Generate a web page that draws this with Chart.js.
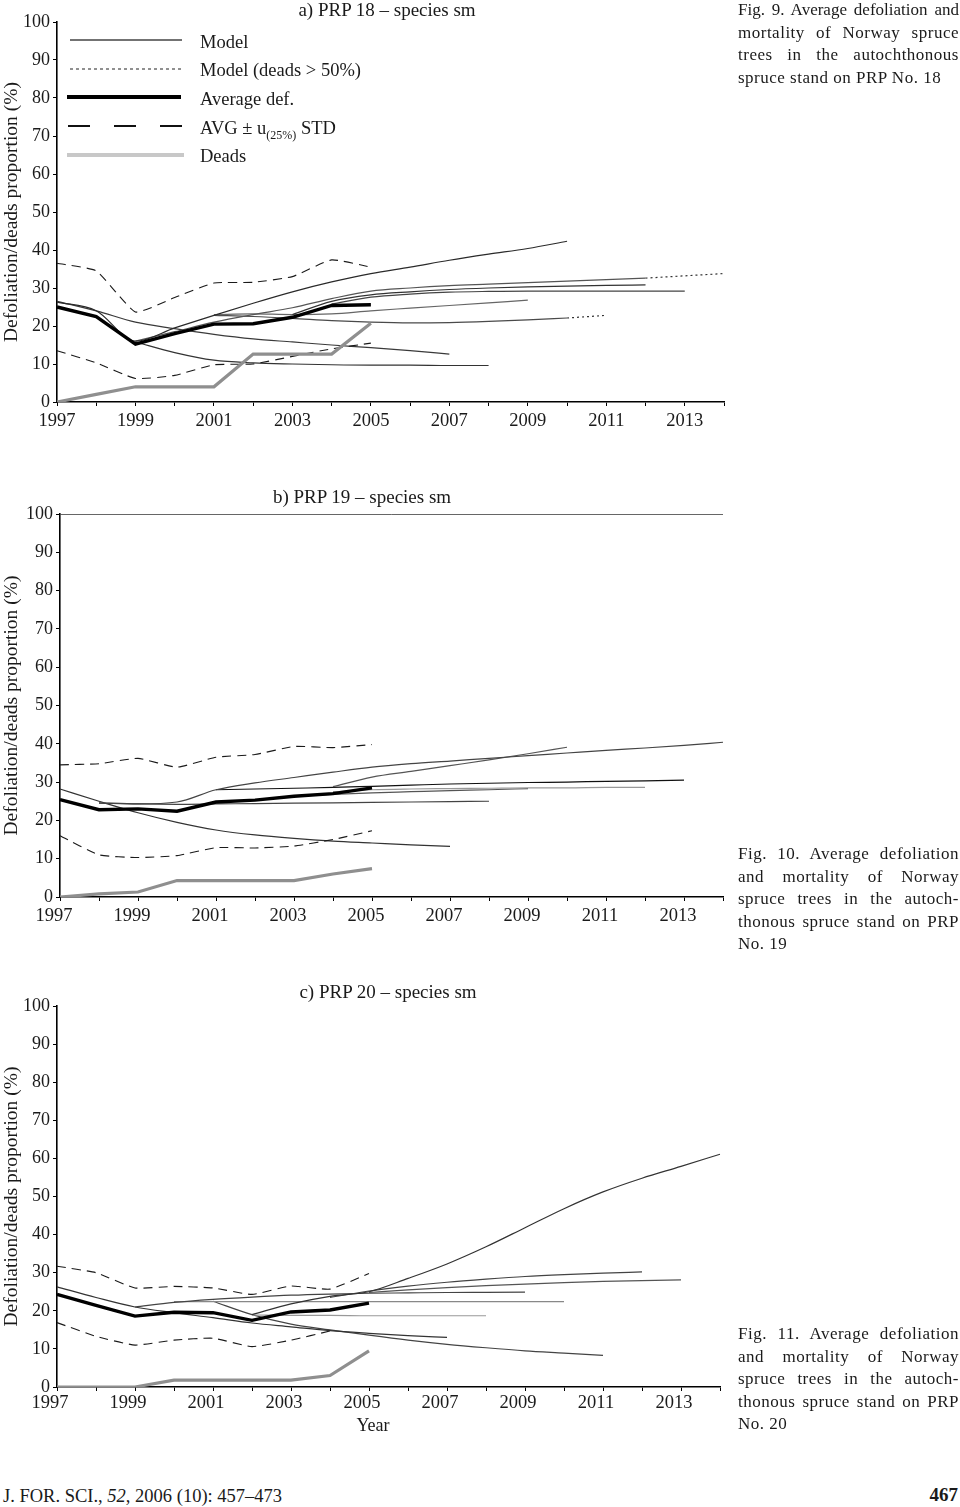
<!DOCTYPE html>
<html><head><meta charset="utf-8">
<script src="https://cdn.jsdelivr.net/npm/chart.js@4/dist/chart.umd.min.js"></script>
<style>
body{margin:0;width:960px;height:1507px;background:#fff;position:relative;overflow:hidden;font-family:'Liberation Serif',serif;color:#1a1a1a}
canvas{position:absolute;left:0}
.t{position:absolute;white-space:nowrap;font-size:19px;line-height:20px;transform:translateX(-50%)}
.lg{position:absolute;left:200px;font-size:18.5px;line-height:20px;white-space:nowrap}
.cap{position:absolute;left:738px;width:221px;font-size:17px;line-height:22.5px}
.cap div{text-align:justify;text-align-last:justify;letter-spacing:0.5px}
.cap div.last{text-align-last:left}
</style></head><body>

<canvas id="ca" width="740" height="440" style="top:0"></canvas>
<canvas id="cb" width="740" height="450" style="top:480px"></canvas>
<canvas id="cc" width="740" height="450" style="top:970px"></canvas>

<div class="t" style="left:387px;top:0">a) PRP 18 – species sm</div>
<div class="t" style="left:362px;top:487px">b) PRP 19 – species sm</div>
<div class="t" style="left:388px;top:982px">c) PRP 20 – species sm</div>
<div class="t" style="left:373px;top:1415px;font-size:18px">Year</div>

<svg style="position:absolute;left:0;top:0" width="200" height="170">
  <line x1="70" y1="40" x2="182" y2="40" stroke="#444" stroke-width="1.3"/>
  <line x1="70" y1="69" x2="182" y2="69" stroke="#222" stroke-width="1.2" stroke-dasharray="3,3"/>
  <line x1="67" y1="97" x2="181" y2="97" stroke="#000" stroke-width="4"/>
  <line x1="68" y1="126" x2="182" y2="126" stroke="#111" stroke-width="2" stroke-dasharray="22,24"/>
  <line x1="67" y1="155" x2="184" y2="155" stroke="#c8c8c8" stroke-width="4"/>
</svg>
<div class="lg" style="top:32px">Model</div>
<div class="lg" style="top:60px">Model (deads &gt; 50%)</div>
<div class="lg" style="top:89px">Average def.</div>
<div class="lg" style="top:118px">AVG ± u<sub style="font-size:12px">(25%)</sub> STD</div>
<div class="lg" style="top:146px">Deads</div>

<div class="cap" style="top:-1px">
<div style="letter-spacing:0">Fig. 9. Average defoliation and</div>
<div>mortality of Norway spruce</div>
<div>trees in the autochthonous</div>
<div class="last">spruce stand on PRP No. 18</div>
</div>
<div class="cap" style="top:843px">
<div>Fig. 10. Average defoliation</div>
<div>and mortality of Norway</div>
<div>spruce trees in the autoch-</div>
<div>thonous spruce stand on PRP</div>
<div class="last">No. 19</div>
</div>
<div class="cap" style="top:1323px">
<div>Fig. 11. Average defoliation</div>
<div>and mortality of Norway</div>
<div>spruce trees in the autoch-</div>
<div>thonous spruce stand on PRP</div>
<div class="last">No. 20</div>
</div>

<div style="position:absolute;left:3px;top:1486px;font-size:18.5px;line-height:20px;white-space:nowrap">J. FOR. SCI., <i>52</i>, 2006 (10): 457–473</div>
<div style="position:absolute;right:2px;top:1485px;font-size:19px;line-height:20px;font-weight:bold">467</div>

<script>
// ---- shared axes ----
const years = ['1997','1998','1999','2000','2001','2002','2003','2004','2005','2006','2007','2008','2009','2010','2011','2012','2013','2014'];
const yTicks = [0,10,20,30,40,50,60,70,80,90,100];
const yTitle = 'Defoliation/deads proportion (%)';

// ---- panel a) PRP 18 ----
const avgA   = [25,22.5,15.2,18,20.5,20.6,22.3,25.4,25.6];
const deadsA = [0,2,4,4,4,12.6,12.6,12.6,20.7];
const upA    = [36.5,34.5,23.7,27.5,31.3,31.5,33,37.4,35.5];
const lowA   = [13.5,10.3,6.2,7,9.8,10,12,14,15.5];
const mA1 = [26.3,24,16,19.5,22.8,26,29,31.6,33.8,35.5,37.3,38.9,40.4,42.3];
const mA2 = [null,null,16,18.5,21,23,24.8,27.2,29.2,30,30.6,31,31.4,31.8,32.2,32.6];
const dA2 = [null,null,null,null,null,null,null,null,null,null,null,null,null,null,null,32.6,33.2,33.8];
const mA3 = [null,null,null,null,null,null,23,26.5,28.2,29,29.6,30,30.3,30.5,30.7,30.8];
const mA4 = [null,null,null,null,null,null,null,25.8,27.6,28.4,28.9,29.1,29.2,29.2,29.2,29.2,29.2];
const mA5 = [null,null,null,null,23,23.2,23,23.2,24,24.7,25.4,26.1,26.8];
const mA6 = [null,null,null,null,22.8,22.5,22,21.4,21,20.8,20.9,21.2,21.6,22.1];
const dA6 = [null,null,null,null,null,null,null,null,null,null,null,null,null,22.1,22.8];
const mA7 = [26.5,24,21,19.3,17.8,16.6,15.8,15,14.3,13.5,12.6];
const mA8 = [null,null,15.8,13,11,10.3,10,9.8,9.7,9.7,9.6,9.6];

// ---- panel b) PRP 19 ----
const avgB   = [25.4,22.8,23,22.4,24.8,25.3,26.3,27,28.5];
const deadsB = [0,0.8,1.3,4.3,4.3,4.3,4.3,6,7.4];
const upB    = [34.5,34.8,36.2,33.9,36.5,37.2,39.3,39,39.8];
const lowB   = [16,11,10.3,10.8,12.9,12.8,13.3,15,17.3];
const mB1 = [null,24.5,24.3,24.8,28,29.8,31.2,32.6,33.9,34.8,35.5,36.2,36.9,37.6,38.3,38.9,39.6,40.4];
const mB2 = [null,null,null,null,null,null,null,28.8,31.3,32.8,34.3,35.8,37.4,39.1];
const mB3 = [null,null,null,null,28,28.2,28.4,28.6,28.9,29.2,29.5,29.7,29.9,30,30.2,30.3,30.5];
const mB4 = [null,null,null,null,null,null,null,27.5,28,28.2,28.3,28.4,28.5,28.5,28.6,28.6];
const mB5 = [null,null,null,null,null,null,26.3,26.8,27.2,27.5,27.8,28,28.3];
const mB6 = [null,24.6,24.3,24.2,24.3,24.4,24.5,24.6,24.7,24.8,24.9,25];
const mB7 = [28.2,25,22,19.5,17.5,16.2,15.3,14.6,14.1,13.6,13.2];

// ---- panel c) PRP 20 ----
const avgC   = [24.3,21.4,18.6,19.6,19.5,17.5,19.7,20.2,22];
const deadsC = [0,0,0,1.8,1.8,1.8,1.8,3,9.5];
const upC    = [31.7,30,26,26.4,26,24.3,26.5,25.7,29.8];
const lowC   = [16.9,13.3,11,12.3,12.8,10.6,12.3,14.7];
const mC1 = [null,null,null,null,null,19,21.8,23.8,25,28.5,32.3,36.8,41.8,46.8,51.2,54.8,57.9,61.1];
const mC2 = [null,null,null,null,null,null,null,23.5,25.2,26.5,27.5,28.3,29,29.5,29.9,30.2];
const mC3 = [null,null,null,null,null,null,null,null,24.8,25.5,26.1,26.6,27,27.4,27.7,27.9,28.1];
const mC4 = [null,null,21,22.2,23,23.6,24.1,24.4,24.6,24.7,24.8,24.85,24.9];
const mC5 = [null,null,null,22.4,22.4,22.4,22.4,22.4,22.4,22.4,22.4,22.4,22.4,22.4];
const mC6 = [null,null,null,null,null,18.9,18.8,18.8,18.7,18.7,18.7,18.7];
const mC7 = [26.3,23.5,21,19.5,18.2,16.8,15.8,14.8,14.1,13.5,13];
const mC8 = [null,null,null,null,22.5,19,16.5,15,13.6,12.3,11.2,10.3,9.5,8.9,8.3];

const FONT = "'Liberation Serif', serif";

function model(data, color) {
  return {data, borderColor: color, borderWidth: 1.2, pointRadius: 0, tension: 0.35, cubicInterpolationMode: 'monotone', order: 5};
}
function dotted(data, color) {
  return {data, borderColor: color, borderWidth: 1.2, pointRadius: 0, borderDash: [2, 3], order: 5};
}
function dashLine(data) {
  return {data, borderColor: '#1a1a1a', borderWidth: 1.1, pointRadius: 0, borderDash: [9, 6], tension: 0.15, order: 4};
}
function avgLine(data) {
  return {data, borderColor: '#000', borderWidth: 3.4, pointRadius: 0, tension: 0, order: 1};
}
function deadLine(data) {
  return {data, borderColor: '#8f8f8f', borderWidth: 3.2, pointRadius: 0, tension: 0, order: 2};
}

function build(id, datasets, o) {
  new Chart(document.getElementById(id), {
    type: 'line',
    data: {labels: years, datasets},
    options: {
      responsive: false, animation: false,
      layout: {padding: {top: o.padTop, right: o.padRight, left: 0, bottom: 0}},
      plugins: {legend: {display: false}, tooltip: {enabled: false}},
      scales: {
        x: {
          type: 'category', offset: false,
          afterFit: s => { s.height = o.xh; },
          border: {display: true, color: '#000', width: 1.6},
          grid: {drawOnChartArea: false, drawTicks: true, tickLength: 4, color: '#000'},
          ticks: {
            autoSkip: false, maxRotation: 0, minRotation: 0, color: '#1a1a1a',
            padding: o.xpad, labelOffset: o.lOff,
            font: {family: FONT, size: 18.5},
            callback: (v, i) => (i % 2 === 0 && i < 17) ? years[i] : ''
          }
        },
        y: {
          min: 0, max: 100,
          afterFit: s => { s.width = o.yw; },
          afterBuildTicks: s => { s.ticks = yTicks.map(v => ({value: v})); },
          border: {display: true, color: '#000', width: 1.6},
          grid: {
            drawOnChartArea: !!o.topLine, drawTicks: true, tickLength: 4, tickColor: '#000',
            color: c => (o.topLine && c.tick && c.tick.value === 100) ? '#666' : 'rgba(0,0,0,0)'
          },
          ticks: {color: '#1a1a1a', padding: 3, font: {family: FONT, size: 18}},
          title: {display: true, text: yTitle, color: '#1a1a1a', padding: 0, font: {family: FONT, size: 19.5}}
        }
      }
    }
  });
}

build('ca', [
  avgLine(avgA), deadLine(deadsA), dashLine(upA), dashLine(lowA),
  model(mA1, '#2a2a2a'), model(mA2, '#555'), dotted(dA2, '#333'), model(mA3, '#333'),
  model(mA4, '#444'), model(mA5, '#666'), model(mA6, '#4a4a4a'), dotted(dA6, '#333'),
  model(mA7, '#3a3a3a'), model(mA8, '#333')
], {padTop: 22, padRight: 16, xh: 38, yw: 57, xpad: 4, lOff: 0});

build('cb', [
  avgLine(avgB), deadLine(deadsB), dashLine(upB), dashLine(lowB),
  model(mB1, '#444'), model(mB2, '#555'), model(mB3, '#111'), model(mB4, '#999'),
  model(mB5, '#555'), model(mB6, '#444'), model(mB7, '#333')
], {padTop: 34, padRight: 17, xh: 33, yw: 60, xpad: 4, lOff: -6, topLine: true});

build('cc', [
  avgLine(avgC), deadLine(deadsC), dashLine(upC), dashLine(lowC),
  model(mC1, '#333'), model(mC2, '#444'), model(mC3, '#555'), model(mC4, '#444'),
  model(mC5, '#888'), model(mC6, '#999'), model(mC7, '#333'), model(mC8, '#444')
], {padTop: 36, padRight: 20, xh: 33, yw: 57, xpad: 1, lOff: -7});
</script>
</body></html>
